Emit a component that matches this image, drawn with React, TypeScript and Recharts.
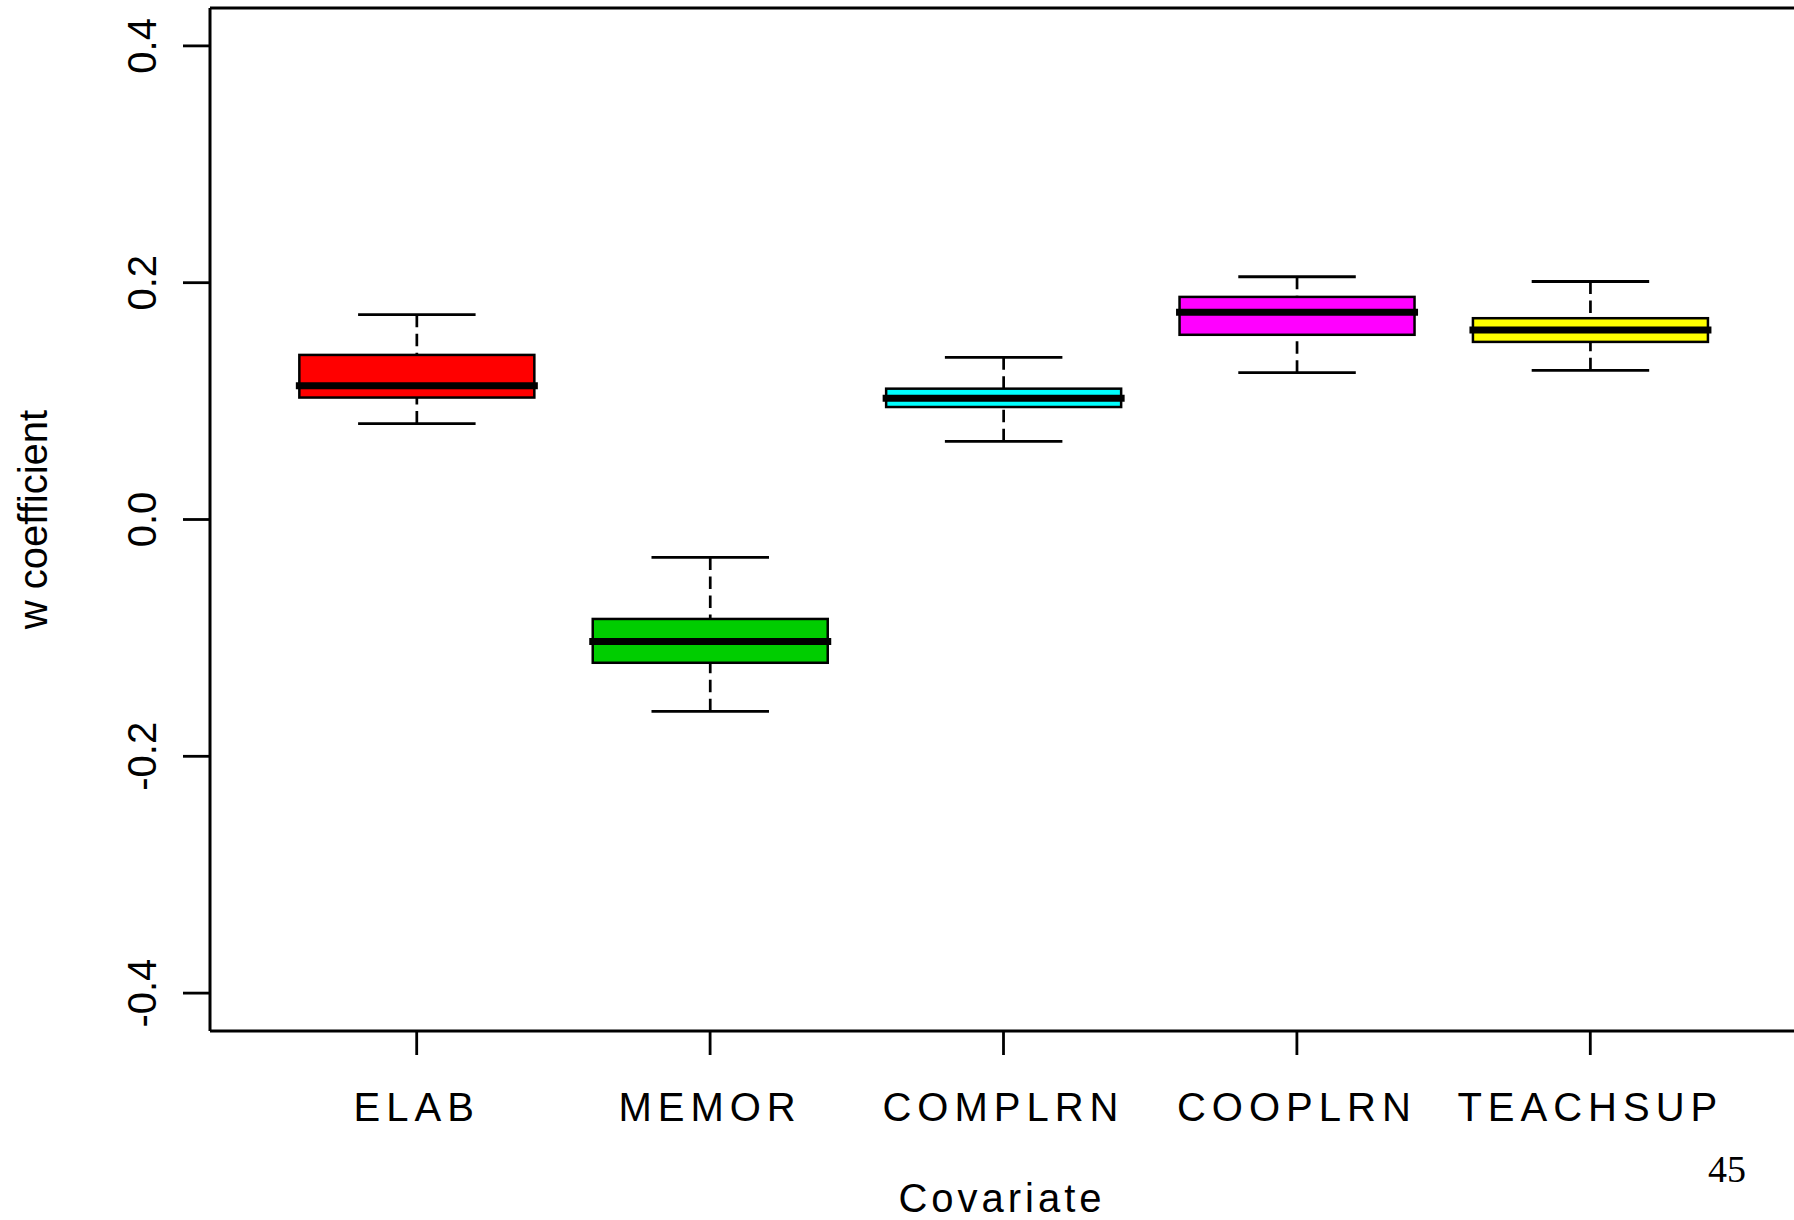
import React from 'react';
import { ComposedChart, Bar, XAxis, YAxis, Label } from 'recharts';

const categories = ['ELAB', 'MEMOR', 'COMPLRN', 'COOPLRN', 'TEACHSUP'];
const whiskerLow = [0.081, -0.162, 0.066, 0.124, 0.126];
const lowerQuartile = [0.103, -0.121, 0.095, 0.156, 0.150];
const medians = [0.113, -0.103, 0.1025, 0.175, 0.160];
const upperQuartile = [0.139, -0.084, 0.1105, 0.188, 0.170];
const whiskerHigh = [0.173, -0.032, 0.137, 0.205, 0.201];
const boxColors = ['#FF0000', '#00CD00', '#00FFFF', '#FF00FF', '#FFFF00'];
const yTicks = [-0.4, -0.2, 0, 0.2, 0.4];
const yDomain = [-0.432, 0.432];

const data = categories.map((name, i) => ({
  name,
  whisker: [whiskerLow[i], whiskerHigh[i]],
  box: [lowerQuartile[i], upperQuartile[i]],
  med: [lowerQuartile[i], medians[i]],
  fill: boxColors[i],
}));

const FONT = '"Liberation Sans", Arial, Helvetica, sans-serif';

const WhiskerShape = (props: any) => {
  const { x, y, width, height } = props;
  const top = Math.min(y, y + height);
  const bot = Math.max(y, y + height);
  const cx = x + width / 2;
  const mid = (top + bot) / 2;
  const half = width / 4;
  return (
    <g>
      <line x1={cx} y1={top} x2={cx} y2={mid} stroke="#000" strokeWidth={2.7} strokeDasharray="12.5 6.5" />
      <line x1={cx} y1={bot} x2={cx} y2={mid} stroke="#000" strokeWidth={2.7} strokeDasharray="12.5 6.5" />
      <line x1={cx - half} y1={top} x2={cx + half} y2={top} stroke="#000" strokeWidth={2.8} />
      <line x1={cx - half} y1={bot} x2={cx + half} y2={bot} stroke="#000" strokeWidth={2.8} />
    </g>
  );
};

const BoxShape = (props: any) => {
  const { x, y, width, height, payload } = props;
  const top = Math.min(y, y + height);
  const h = Math.abs(height);
  return <rect x={x} y={top} width={width} height={h} fill={payload.fill} stroke="#000" strokeWidth={2.5} />;
};

const MedianShape = (props: any) => {
  const { x, y, width, height } = props;
  const top = Math.min(y, y + height);
  return <line x1={x - 3.5} y1={top} x2={x + width + 3.5} y2={top} stroke="#000" strokeWidth={7} />;
};

const XTick = (props: any) => {
  const { x, y, payload } = props;
  return (
    <text x={x} y={y + 64} textAnchor="middle" fontFamily={FONT} fontSize={40} letterSpacing={6} fill="#000">
      {payload.value}
    </text>
  );
};

const YTick = (props: any) => {
  const { x, y, payload } = props;
  const v = Number(payload.value);
  const label = v.toFixed(1);
  return (
    <text
      x={x - 25}
      y={y}
      transform={`rotate(-90, ${x - 25}, ${y})`}
      textAnchor="middle"
      fontFamily={FONT}
      fontSize={40}
      fill="#000"
    >
      {label}
    </text>
  );
};

const XTitle = (props: any) => {
  const vb = props.viewBox || {};
  const cx = vb.x + vb.width / 2;
  return (
    <g>
      <text x={cx} y={vb.y + 181} textAnchor="middle" fontFamily={FONT} fontSize={40} letterSpacing={4} fill="#000">
        Covariate
      </text>
      <text x={1708} y={1182} fontFamily='"Liberation Serif", "Times New Roman", serif' fontSize={38} fill="#000">
        45
      </text>
    </g>
  );
};

const YTitle = (props: any) => {
  const vb = props.viewBox || {};
  const cy = vb.y + vb.height / 2;
  const bx = 47;
  return (
    <text
      x={bx}
      y={cy}
      transform={`rotate(-90, ${bx}, ${cy})`}
      textAnchor="middle"
      fontFamily={FONT}
      fontSize={40}
      fill="#000"
    >
      w coefficient
    </text>
  );
};

const pad = { left: 60, right: 57 };

export default function App() {
  return (
    <div style={{ position: 'absolute', left: 0, top: 0, width: 1794, height: 1220, background: '#fff' }}>
      <ComposedChart
        width={1794}
        height={1220}
        data={data}
        margin={{ top: 7, right: 0, bottom: 0, left: 0 }}
        barCategoryGap="10%"
      >
        <XAxis
          xAxisId="main"
          dataKey="name"
          orientation="bottom"
          height={189}
          padding={pad}
          tickSize={24}
          axisLine={{ stroke: '#000', strokeWidth: 3 }}
          tickLine={{ stroke: '#000', strokeWidth: 2.8 }}
          tick={<XTick />}
          interval={0}
        >
          <Label content={<XTitle />} />
        </XAxis>
        <XAxis xAxisId="box" dataKey="name" hide height={0} padding={pad} />
        <XAxis xAxisId="med" dataKey="name" hide height={0} padding={pad} />
        <XAxis
          xAxisId="top"
          dataKey="name"
          orientation="top"
          height={1}
          padding={pad}
          tick={false}
          tickLine={false}
          axisLine={{ stroke: '#000', strokeWidth: 3 }}
        />
        <YAxis
          type="number"
          domain={yDomain}
          ticks={yTicks}
          allowDataOverflow
          width={210}
          tickSize={27}
          axisLine={{ stroke: '#000', strokeWidth: 3 }}
          tickLine={{ stroke: '#000', strokeWidth: 2.8 }}
          tick={<YTick />}
          interval={0}
        >
          <Label content={<YTitle />} />
        </YAxis>
        <Bar xAxisId="main" dataKey="whisker" shape={<WhiskerShape />} isAnimationActive={false} />
        <Bar xAxisId="box" dataKey="box" shape={<BoxShape />} isAnimationActive={false} />
        <Bar xAxisId="med" dataKey="med" shape={<MedianShape />} isAnimationActive={false} />
      </ComposedChart>
    </div>
  );
}
